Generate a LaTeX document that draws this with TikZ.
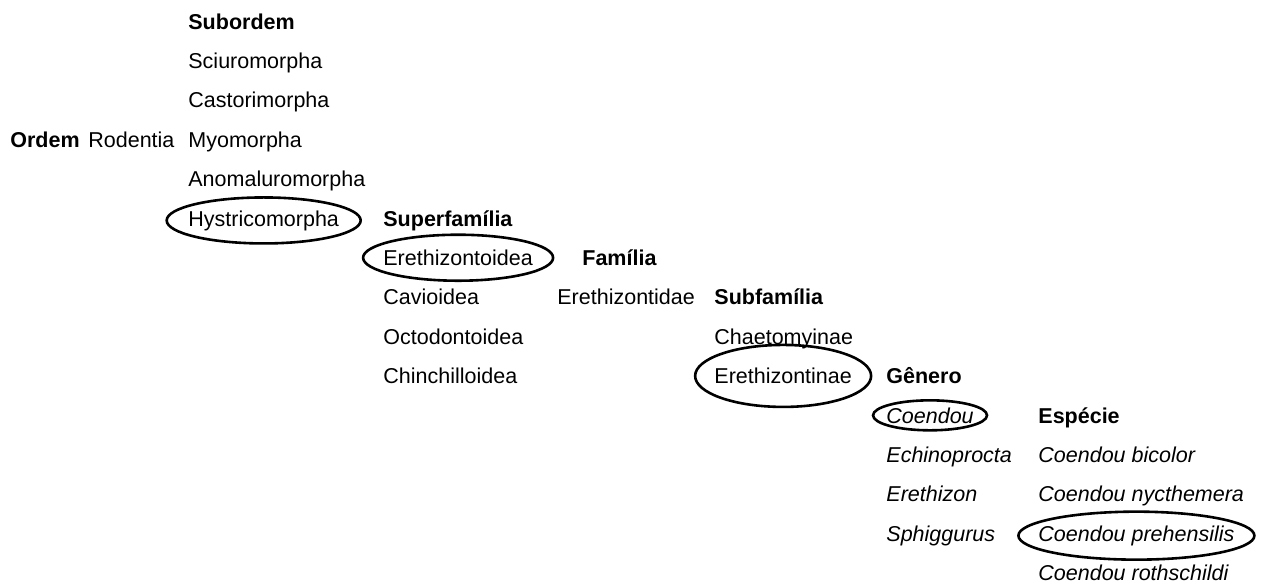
\documentclass[tikz,border=0pt]{standalone}
\usepackage{fontspec}
\setmainfont{Liberation Sans}
\usetikzlibrary{shapes}

\begin{document}
\begin{tikzpicture}[x=0.5pt, y=-0.5pt, font=\fontsize{10.75pt}{13pt}\selectfont,
    taxon/.style = {anchor=base west, inner sep=0pt},
    rank/.style = {taxon, font=\fontsize{10.75pt}{13pt}\selectfont\bfseries},
    ring/.style = {draw, line width=1.3pt}]
    \useasboundingbox (0,0) rectangle (1268,584);
    % Ordem
    \node[rank]  (ordem) at (10, 147.2) {Ordem};
    \node[taxon] (rodentia) at (88, 147.2) {Rodentia};

    % Subordem
    \node[rank]  (sub0) at (188, 29) {Subordem};
    \node[taxon] (sub1) at (188, 68.4) {Sciuromorpha};
    \node[taxon] (sub2) at (188, 107.8) {Castorimorpha};
    \node[taxon] (sub3) at (188, 147.2) {Myomorpha};
    \node[taxon] (sub4) at (188, 186.6) {Anomaluromorpha};
    \node[taxon] (sub5) at (188, 226) {Hystricomorpha};

    % Superfamilia
    \node[rank]  (sup0) at (383, 226) {Superfamília};
    \node[taxon] (sup1) at (383, 265.4) {Erethizontoidea};
    \node[taxon] (sup2) at (383, 304.8) {Cavioidea};
    \node[taxon] (sup3) at (383, 344.2) {Octodontoidea};
    \node[taxon] (sup4) at (383, 383.6) {Chinchilloidea};

    % Familia
    \node[rank]  (fam0) at (582, 265.4) {Família};
    \node[taxon] (fam1) at (557, 304.8) {Erethizontidae};

    % Subfamilia
    \node[rank]  (sfa0) at (714, 304.8) {Subfamília};
    \node[taxon] (sfa1) at (714, 344.2) {Chaetomyinae};
    \node[taxon] (sfa2) at (714, 383.6) {Erethizontinae};

    % Genero
    \node[rank]  (gen0) at (886, 383.6) {Gênero};
    \node[taxon] (gen1) at (886, 423) {\itshape Coendou};
    \node[taxon] (gen2) at (886, 462.4) {\itshape Echinoprocta};
    \node[taxon] (gen3) at (886, 501.8) {\itshape Erethizon};
    \node[taxon] (gen4) at (886, 541.2) {\itshape Sphiggurus};

    % Especie
    \node[rank]  (esp0) at (1038, 423) {Espécie};
    \node[taxon] (esp1) at (1038, 462.4) {\itshape Coendou bicolor};
    \node[taxon] (esp2) at (1038, 501.8) {\itshape Coendou nycthemera};
    \node[taxon] (esp3) at (1038, 541.2) {\itshape Coendou prehensilis};
    \node[taxon] (esp4) at (1038, 580.6) {\itshape Coendou rothschildi};

    % Highlighted path
    \draw[ring] (sub5.center) ellipse [x radius=97, y radius=23];
    \draw[ring] (sup1.center) ellipse [x radius=95, y radius=23];
    \draw[ring] (sfa2.center) ellipse [x radius=88, y radius=31];
    \draw[ring] (gen1.center) ellipse [x radius=57, y radius=15];
    \draw[ring] (esp3.center) ellipse [x radius=118, y radius=24];

\end{tikzpicture}
\end{document}
